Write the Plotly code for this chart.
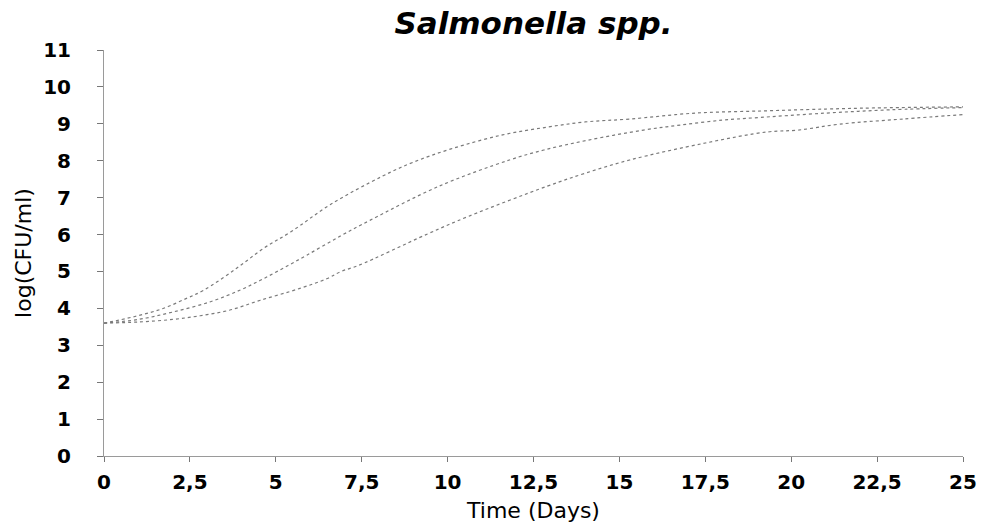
import plotly.graph_objects as go

# Data (Time in days, log(CFU/ml))
x_top = [0, 0.9, 1.7, 2.4, 2.9, 3.85, 4.65, 5.45, 6.6, 8.1, 9.0, 10.1, 11.6, 12.9, 14.0, 15.3, 17.2, 19.2, 21.0, 22.4, 25.0]
y_top = [3.6, 3.78, 3.99, 4.27, 4.49, 5.08, 5.63, 6.08, 6.82, 7.58, 7.96, 8.32, 8.70, 8.91, 9.05, 9.13, 9.29, 9.35, 9.40, 9.43, 9.46]

x_mid = [0, 1.0, 2.0, 3.1, 3.95, 4.55, 5.2, 5.9, 6.9, 7.75, 9.75, 11.8, 12.8, 14.1, 15.7, 16.8, 18.0, 18.9, 21.0, 22.9, 25.0]
y_mid = [3.6, 3.7, 3.9, 4.18, 4.49, 4.76, 5.08, 5.44, 5.97, 6.39, 7.31, 8.02, 8.29, 8.56, 8.83, 8.97, 9.10, 9.16, 9.29, 9.38, 9.44]

x_bot = [0, 1.0, 2.0, 2.8, 3.65, 4.55, 5.7, 6.5, 6.9, 7.4, 9.4, 10.6, 12.9, 14.0, 15.3, 17.5, 19.3, 20.2, 21.4, 23.25, 25.0]
y_bot = [3.6, 3.63, 3.7, 3.80, 3.95, 4.22, 4.54, 4.81, 5.0, 5.16, 6.01, 6.49, 7.31, 7.66, 8.02, 8.48, 8.78, 8.83, 8.99, 9.13, 9.25]

x_tickvals = [0, 2.5, 5, 7.5, 10, 12.5, 15, 17.5, 20, 22.5, 25]
x_ticktext = ["0", "2,5", "5", "7,5", "10", "12,5", "15", "17,5", "20", "22,5", "25"]
y_tickvals = list(range(0, 12))

title_text = "<b><i>Salmonella spp.</i></b>"
x_title = "Time (Days)"
y_title = "log(CFU/ml)"

fig = go.Figure()
for xs, ys in [(x_top, y_top), (x_mid, y_mid), (x_bot, y_bot)]:
    fig.add_trace(go.Scatter(
        x=xs, y=ys, mode="lines", line_shape="spline",
        line=dict(color="#7a7a7a", width=1.2, dash="dot"),
        showlegend=False, hoverinfo="skip"))

fig.update_layout(
    width=991, height=529, autosize=False,
    margin=dict(l=104, r=28, t=50, b=73),
    paper_bgcolor="white", plot_bgcolor="white",
    title=dict(text=title_text, x=0.5, xref="paper", xanchor="center",
               y=0.956, yref="container", yanchor="middle",
               font=dict(family="DejaVu Sans", size=31, color="black")),
    font=dict(family="DejaVu Sans", color="black"),
)
fig.update_xaxes(
    range=[0, 25], tickvals=x_tickvals, ticktext=x_ticktext,
    showgrid=False, zeroline=False, showline=True, linecolor="#9a9a9a", linewidth=1,
    ticks="outside", ticklen=5, tickcolor="#777777",
    tickfont=dict(family="DejaVu Sans", size=20, color="black", weight="bold"),
    ticklabelstandoff=3,
    title=dict(text=x_title, standoff=9,
               font=dict(family="DejaVu Sans", size=22, color="black")),
)
fig.update_yaxes(
    range=[0, 11], tickvals=y_tickvals,
    showgrid=False, zeroline=False, showline=True, linecolor="#9a9a9a", linewidth=1,
    ticks="outside", ticklen=6, tickcolor="#777777",
    tickfont=dict(family="DejaVu Sans", size=20, color="black", weight="bold"),
    ticklabelstandoff=22,
    title=dict(text=y_title, standoff=5,
               font=dict(family="DejaVu Sans", size=22, color="black")),
)

fig.write_html("out.html")
